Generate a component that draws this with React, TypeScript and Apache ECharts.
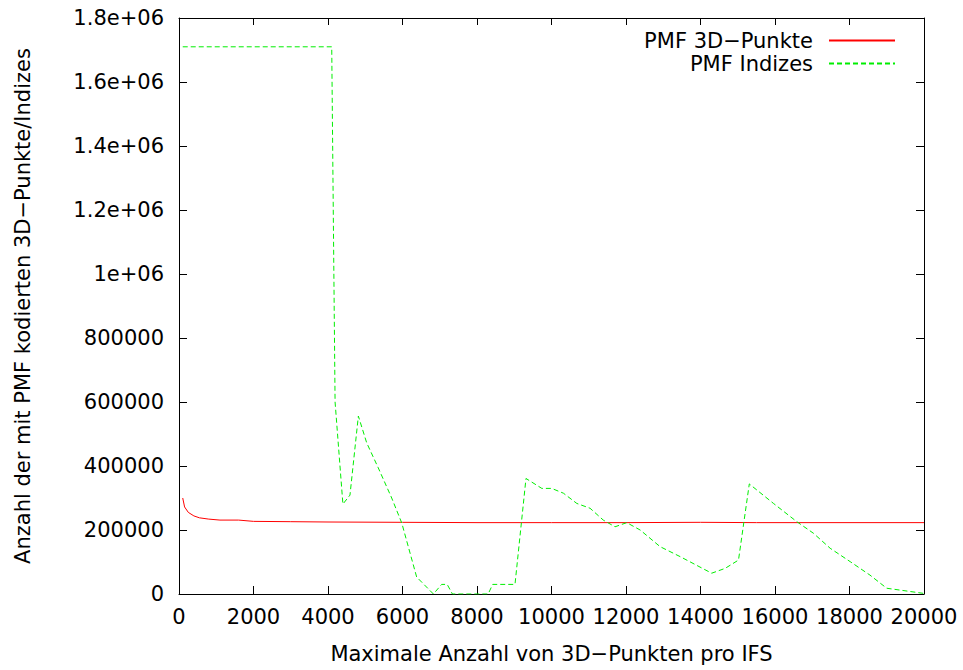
import React, { useEffect, useRef } from "react";
import * as echarts from "echarts";

const xTitle = "Maximale Anzahl von 3D−Punkten pro IFS";
const yTitle = "Anzahl der mit PMF kodierten 3D−Punkte/Indizes";
const seriesNames = ["PMF 3D−Punkte", "PMF Indizes"];

const pmfPunkte: [number, number][] = [
  [100, 300000], [150, 272000], [250, 255000], [400, 244000], [550, 238000],
  [800, 234000], [1100, 231000], [1600, 231000], [2000, 227000], [3000, 226000],
  [4000, 225000], [6000, 224000], [8000, 223000], [10000, 223000], [12000, 223000],
  [14000, 224000], [15500, 223000], [20000, 223000],
];

const pmfIndizes: [number, number][] = [
  [100, 1710000], [4100, 1710000], [4190, 600000], [4400, 281000], [4590, 309000],
  [4815, 556000], [5040, 472000], [5350, 394000], [5710, 300000], [5980, 222000],
  [6380, 53000], [6830, 0], [7050, 30000], [7200, 30000], [7340, 0], [8300, 0],
  [8420, 30000], [9020, 30000], [9315, 361000], [9740, 330000], [10005, 330000],
  [10320, 315000], [10680, 283000], [11035, 268000], [11390, 231000], [11705, 210000],
  [12020, 223000], [12380, 200000], [12915, 148000], [13450, 117000], [14300, 65000],
  [14660, 80000], [15020, 106000], [15310, 344000], [15960, 283000], [16585, 226000],
  [17030, 190000], [17480, 143000], [18020, 101000], [18550, 59000], [19000, 18000],
  [19985, 2000],
];

const FONT = "'DejaVu Sans', sans-serif";
const FS = 21;

export default function App() {
  const ref = useRef<HTMLDivElement>(null);
  useEffect(() => {
    if (!ref.current) return;
    const chart = echarts.init(ref.current, null, { renderer: "svg" });
    const axisLine = { show: true, onZero: false, lineStyle: { color: "#000", width: 1 } };
    const tick = (len: number) => ({ show: true, inside: true, length: len, lineStyle: { color: "#000" } });
    const legendText = { fontSize: FS, fontFamily: FONT, color: "#000", padding: [0, 11, 0, 0] };
    chart.setOption({
      animation: false,
      backgroundColor: "#fff",
      textStyle: { fontFamily: FONT },
      grid: { left: 179, right: 39, top: 18, bottom: 76, containLabel: false },
      legend: [
        {
          data: [seriesNames[0]],
          right: 62,
          top: 25,
          align: "right",
          itemWidth: 66,
          itemHeight: 10,
          itemStyle: { opacity: 0 },
          textStyle: legendText,
          selectedMode: false,
        },
        {
          data: [seriesNames[1]],
          right: 62,
          top: 48,
          align: "right",
          itemWidth: 66,
          itemHeight: 10,
          itemStyle: { opacity: 0 },
          textStyle: legendText,
          selectedMode: false,
        },
      ],
      xAxis: [
        {
          type: "value",
          min: 0,
          max: 20000,
          interval: 2000,
          position: "bottom",
          name: xTitle,
          nameLocation: "middle",
          nameGap: 49,
          nameTextStyle: { fontSize: FS, color: "#000", fontFamily: FONT },
          axisLabel: { fontSize: FS, color: "#000", margin: 12, fontFamily: FONT, formatter: (v: number) => String(v) },
          axisLine,
          axisTick: tick(8),
          splitLine: { show: false },
        },
        {
          type: "value",
          min: 0,
          max: 20000,
          interval: 2000,
          position: "top",
          axisLabel: { show: false },
          axisLine,
          axisTick: tick(7),
          splitLine: { show: false },
        },
      ],
      yAxis: [
        {
          type: "value",
          min: 0,
          max: 1800000,
          interval: 200000,
          position: "left",
          name: yTitle,
          nameLocation: "middle",
          nameGap: 146,
          nameTextStyle: { fontSize: FS, color: "#000", fontFamily: FONT },
          axisLabel: {
            fontSize: FS,
            color: "#000",
            margin: 15,
            fontFamily: FONT,
            formatter: (v: number) => (v >= 1000000 ? `${v / 1000000}e+06` : `${v}`),
          },
          axisLine,
          axisTick: tick(8),
          splitLine: { show: false },
        },
        {
          type: "value",
          min: 0,
          max: 1800000,
          interval: 200000,
          position: "right",
          axisLabel: { show: false },
          axisLine,
          axisTick: tick(8),
          splitLine: { show: false },
        },
      ],
      series: [
        {
          name: seriesNames[0],
          type: "line",
          data: pmfPunkte,
          showSymbol: false,
          symbol: "none",
          lineStyle: { color: "#ff0000", width: 1 },
          itemStyle: { color: "#ff0000" },
        },
        {
          name: seriesNames[1],
          type: "line",
          data: pmfIndizes,
          showSymbol: false,
          symbol: "none",
          lineStyle: { color: "#00ee00", width: 1, type: [5, 3] },
          itemStyle: { color: "#00ee00" },
        },
      ],
    });
    return () => chart.dispose();
  }, []);
  return <div ref={ref} style={{ width: 963, height: 670, position: "absolute", left: 0, top: 0 }} />;
}
